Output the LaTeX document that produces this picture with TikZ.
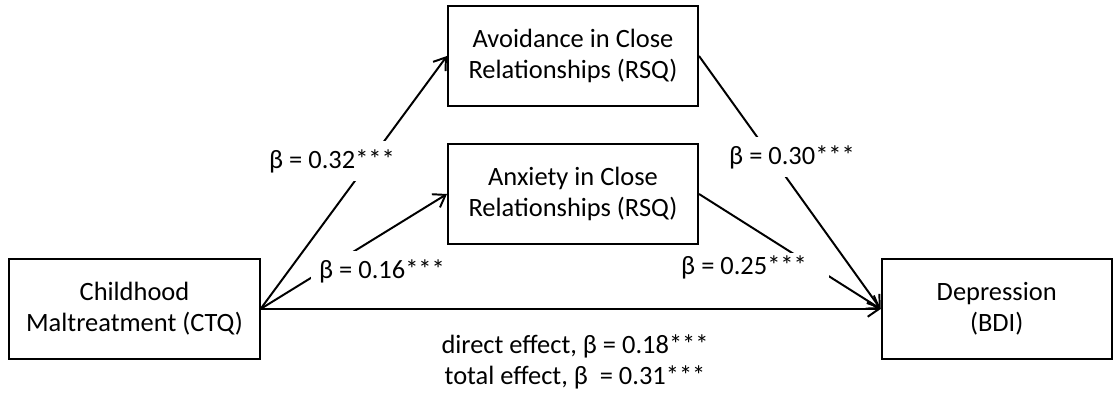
\documentclass[tikz,border=0pt]{standalone}
\usepackage{fontspec}
\setmainfont{Carlito}
\usetikzlibrary{arrows.meta, positioning}
\tikzset{
    box/.style={rectangle, draw=black, line width=1.4pt, fill=white, align=center, minimum width=6.25cm, minimum height=2.5cm, font=\fontsize{18.8}{22}\selectfont},
    arrow/.style={-{Straight Barb[length=8pt, width=11pt]}, line width=1.4pt},
    coef/.style={fill=white, inner xsep=6pt, inner ysep=6pt, font=\fontsize{18.8}{22}\selectfont},
    effect/.style={align=center, font=\fontsize{18.8}{21.5}\selectfont}
}
\begin{document}
\begin{tikzpicture}[x=0.025cm, y=-0.025cm]
    \useasboundingbox (0,0) rectangle (1120,393);

    % Boxes
    \node[box] (CTQ) at (134.5,309) {Childhood\\Maltreatment (CTQ)};
    \node[box] (Anx) at (573,194) {Anxiety in Close\\Relationships (RSQ)};
    \node[box, above=0.9cm of Anx] (Avoid) {Avoidance in Close\\Relationships (RSQ)};
    \node[box, minimum width=5.75cm, right=15.5cm of CTQ] (BDI) {Depression\\(BDI)};

    % Paths
    \draw[arrow] (CTQ.east) -- (Avoid.west);
    \draw[arrow] (CTQ.east) -- (Anx.west);
    \draw[arrow] (CTQ.east) -- (BDI.west);
    \draw[arrow] (Avoid.east) -- (BDI.west);
    \draw[arrow] (Anx.east) -- (BDI.west);

    % Coefficients
    \node[coef] (a1) at (332,161) {β = 0.32***};
    \node[coef] (a2) at (382,271) {β = 0.16***};
    \node[coef] (b1) at (792,157) {β = 0.30***};
    \node[coef, inner xsep=16pt, inner ysep=2pt] (b2) at (744,267) {β = 0.25***};

    \node[effect] (c) at (575,362) {direct effect, β = 0.18***\\total effect, β\ \ = 0.31***};
\end{tikzpicture}
\end{document}
